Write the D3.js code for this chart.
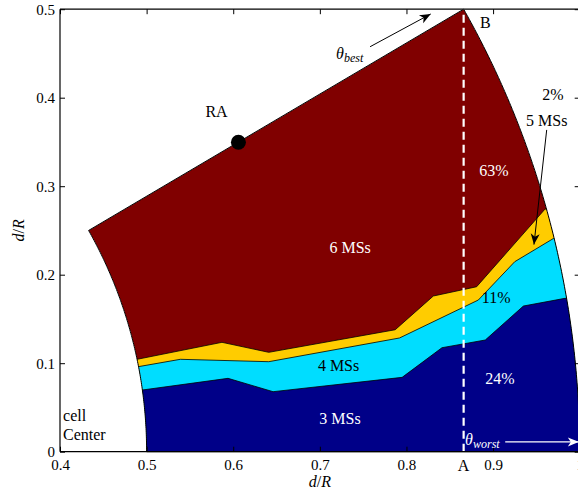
<!DOCTYPE html>
<html><head><meta charset="utf-8">
<script src="https://cdn.jsdelivr.net/npm/d3@7"></script>
<style>body{margin:0;background:#fff}svg{display:block}text{font-family:"Liberation Serif","Times New Roman",serif}</style>
</head><body><svg id="c" width="578" height="494"></svg>
<script>
// ---- data ----
const xTicks = [0.4,0.5,0.6,0.7,0.8,0.9,1.0];
const xTickLabels = ["0.4","0.5","0.6","0.7","0.8","0.9","1"];
const yTicks = [0,0.1,0.2,0.3,0.4,0.5];
const yTickLabels = ["0","0.1","0.2","0.3","0.4","0.5"];
const innerR = 0.5, outerR = 1.0, sectorDeg = 30;
// upper boundary of "3 MSs" region
const b3MS = [[0.495,0.0697],[0.594,0.0829],[0.646,0.0678],[0.795,0.0840],[0.841,0.1175],[0.891,0.1262],[0.935,0.1646],[0.983,0.1733]];
// upper boundary of "4 MSs" region
const b4MS = [[0.490,0.0960],[0.539,0.1044],[0.641,0.1017],[0.792,0.1285],[0.883,0.1714],[0.925,0.2147],[0.970,0.2411]];
// upper boundary of "5 MSs" region
const b5MS = [[0.489,0.1044],[0.587,0.1236],[0.641,0.1123],[0.787,0.1378],[0.831,0.1759],[0.881,0.1864],[0.960,0.2742]];
const layerNames = ["6 MSs","5 MSs","4 MSs","3 MSs"];
const layerColors = ["#800000","#FFCC00","#00DDFF","#000088"];
const pointA = 0.866;
const pointRA = [0.606,0.3496];

// ---- scales ----
const svg = d3.select("#c");
const x = d3.scaleLinear().domain([0.4,1.0]).range([60,579.7]);
const y = d3.scaleLinear().domain([0,0.5]).range([451.7,9.2]);

// sector outline
const toRad = d => d*Math.PI/180;
const angs = d3.range(0, sectorDeg+0.001, 0.25).map(toRad);
const sectorPts = [
  ...angs.map(a=>[outerR*Math.cos(a), outerR*Math.sin(a)]),
  ...angs.slice().reverse().map(a=>[innerR*Math.cos(a), innerR*Math.sin(a)])
];
const sectorPath = "M" + sectorPts.map(p=>[x(p[0]),y(p[1])].join(",")).join("L") + "Z";

const defs = svg.append("defs");
defs.append("clipPath").attr("id","sec").append("path").attr("d",sectorPath);
function arrowMarker(id,color){
  defs.append("marker").attr("id",id).attr("viewBox","-12 -6 14 12")
    .attr("refX",0).attr("refY",0).attr("markerWidth",14).attr("markerHeight",12)
    .attr("markerUnits","userSpaceOnUse").attr("orient","auto")
    .append("path").attr("d","M0,0L-11,-4.5L-8,0L-11,4.5Z").attr("fill",color);
}
arrowMarker("ab","#000"); arrowMarker("aw","#fff");

const g = svg.append("g").attr("clip-path","url(#sec)");
g.append("path").attr("d",sectorPath).attr("fill",layerColors[0]);
const ext = b => [[0.4,b[0][1]],...b,[1.05,b[b.length-1][1]]];
const area = d3.area().x(d=>x(d[0])).y0(y(-0.01)).y1(d=>y(d[1]));
const line = d3.line().x(d=>x(d[0])).y(d=>y(d[1]));
[b5MS,b4MS,b3MS].forEach((b,i)=>{
  g.append("path").attr("d",area(ext(b))).attr("fill",layerColors[i+1]);
});
[b5MS,b4MS,b3MS].forEach(b=>{
  g.append("path").attr("d",line(ext(b))).attr("fill","none").attr("stroke","#000").attr("stroke-width",0.8);
});
svg.append("path").attr("d",sectorPath).attr("fill","none").attr("stroke","#000").attr("stroke-width",1);

// dashed line A-B
svg.append("line").attr("x1",x(pointA)).attr("x2",x(pointA)).attr("y1",y(0)).attr("y2",y(0.5))
  .attr("stroke","#fff").attr("stroke-width",2.2).attr("stroke-dasharray","8,5");

// axes
const fs = 16, tfs = 15;
const ax = svg.append("g");
const axB = ax.append("g").attr("transform",`translate(0,${y(0)})`)
  .call(d3.axisBottom(x).tickValues(xTicks).tickFormat((d,i)=>xTickLabels[i]).tickSize(-5).tickPadding(8));
const axT = ax.append("g").attr("transform",`translate(0,${y(0.5)})`)
  .call(d3.axisTop(x).tickValues(xTicks).tickFormat("").tickSize(-5));
const axL = ax.append("g").attr("transform",`translate(${x(0.4)},0)`)
  .call(d3.axisLeft(y).tickValues(yTicks).tickFormat((d,i)=>yTickLabels[i]).tickSize(-5).tickPadding(5));
const axR = ax.append("g").attr("transform",`translate(${x(1.0)},0)`)
  .call(d3.axisRight(y).tickValues(yTicks).tickFormat("").tickSize(-5));
ax.selectAll(".domain").attr("stroke","#000").attr("stroke-width",1.2);
ax.selectAll("text").attr("font-size",tfs).attr("fill","#000").attr("font-family","Liberation Serif");
axB.select(".domain").attr("d",`M${x(0.4)},0H${x(1.0)}`);
axT.select(".domain").attr("d",`M${x(0.4)},0H${x(1.0)}`);
axL.select(".domain").attr("d",`M0,${y(0)}V${y(0.5)}`);
axR.select(".domain").attr("d",`M0,${y(0)}V${y(0.5)}`);
ax.selectAll(".tick line").attr("stroke","#000");

// axis titles
function dR(sel){
  sel.append("tspan").attr("font-style","italic").text("d");
  sel.append("tspan").text("/");
  sel.append("tspan").attr("font-style","italic").text("R");
}
svg.append("text").attr("x",x(0.7)).attr("y",487).attr("text-anchor","middle").attr("font-size",fs).call(dR);
svg.append("text").attr("transform",`translate(24,${y(0.25)}) rotate(-90)`).attr("text-anchor","middle").attr("font-size",fs).call(dR);

// labels
function lab(t,xv,yv,color,anchor){
  return svg.append("text").attr("x",x(xv)).attr("y",y(yv)).attr("fill",color||"#000")
    .attr("text-anchor",anchor||"middle").attr("font-size",fs).text(t);
}
lab(layerNames[0],0.735,0.224,"#fff");
lab("63%",0.901,0.312,"#fff");
lab("2%",0.969,0.397,"#000");
lab(layerNames[1],0.962,0.368,"#000");
lab("11%",0.9035,0.168,"#000");
lab(layerNames[2],0.7216,0.091,"#000");
lab("24%",0.908,0.076,"#fff");
lab(layerNames[3],0.7233,0.031,"#fff");
lab("cell",0.4035,0.0347,"#000","start");
lab("Center",0.4035,0.0133,"#000","start");
lab("RA",0.5807,0.378,"#000");
lab("B",0.885,0.4787,"#000","start");
svg.append("text").attr("x",x(pointA)).attr("y",471).attr("text-anchor","middle").attr("font-size",fs).text("A");

// RA dot
svg.append("circle").attr("cx",x(pointRA[0])).attr("cy",y(pointRA[1])).attr("r",7.5).attr("fill","#000");

// theta best
const tb = svg.append("text").attr("x",x(0.7187)).attr("y",y(0.444)).attr("font-size",fs).attr("fill","#000");
tb.append("tspan").attr("font-style","italic").text("θ");
tb.append("tspan").attr("font-style","italic").attr("font-size",12).attr("dy",3).text("best");
svg.append("line").attr("x1",x(0.758)).attr("y1",y(0.4576)).attr("x2",x(0.828)).attr("y2",y(0.4946))
  .attr("stroke","#000").attr("stroke-width",1).attr("marker-end","url(#ab)");

// theta worst
const tw = svg.append("text").attr("x",x(0.8677)).attr("y",y(0.0075)).attr("font-size",fs).attr("fill","#fff");
tw.append("tspan").attr("font-style","italic").text("θ");
tw.append("tspan").attr("font-style","italic").attr("font-size",12).attr("dy",3).text("worst");
svg.append("line").attr("x1",x(0.914)).attr("y1",y(0.0111)).attr("x2",x(0.999)).attr("y2",y(0.0111))
  .attr("stroke","#fff").attr("stroke-width",1.2).attr("marker-end","url(#aw)");

// 5 MSs arrow
svg.append("line").attr("x1",x(0.9619)).attr("y1",y(0.3636)).attr("x2",x(0.9472)).attr("y2",y(0.234))
  .attr("stroke","#000").attr("stroke-width",1).attr("marker-end","url(#ab)");
</script></body></html>
